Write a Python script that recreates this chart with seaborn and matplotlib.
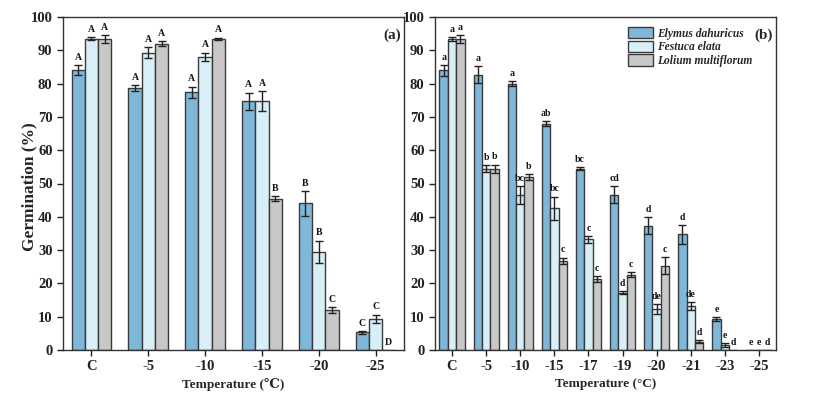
import numpy as np
import pandas as pd
import matplotlib
matplotlib.use("Agg")
import matplotlib.pyplot as plt
import seaborn as sns

species = ["Elymus dahuricus", "Festuca elata", "Lolium multiflorum"]
colors = ["#7fb7d9", "#d8eff7", "#c8c8c8"]

# Panel (a)
temps_a = ["C", "-5", "-10", "-15", "-20", "-25"]
a_E = [84.0, 78.7, 77.4, 74.7, 44.0, 5.3]
a_F = [93.5, 89.3, 88.0, 74.7, 29.4, 9.3]
a_L = [93.3, 92.0, 93.4, 45.4, 12.0, 0.0]
a_E_err = [1.5, 0.8, 1.7, 2.6, 3.7, 0.4]
a_F_err = [0.5, 1.7, 1.3, 3.0, 3.4, 1.3]
a_L_err = [1.2, 0.8, 0.4, 0.8, 0.8, 0.0]
a_E_lab = ["A", "A", "A", "A", "B", "C"]
a_F_lab = ["A", "A", "A", "A", "B", "C"]
a_L_lab = ["A", "A", "A", "B", "C", "D"]

# Panel (b)
temps_b = ["C", "-5", "-10", "-15", "-17", "-19", "-20", "-21", "-23", "-25"]
b_E = [84.0, 82.7, 80.0, 68.0, 54.5, 46.6, 37.3, 34.7, 9.2, 0.0]
b_F = [93.4, 54.5, 46.5, 42.5, 33.2, 17.2, 12.2, 13.2, 1.5, 0.0]
b_L = [93.4, 54.5, 52.0, 26.7, 21.3, 22.6, 25.3, 2.5, 0.0, 0.0]
b_E_err = [1.6, 2.6, 0.7, 0.7, 0.4, 2.5, 2.5, 2.8, 0.6, 0.0]
b_F_err = [0.5, 1.0, 2.8, 3.5, 1.0, 0.4, 1.5, 1.2, 0.5, 0.0]
b_L_err = [1.2, 1.2, 0.8, 1.0, 0.8, 0.8, 2.5, 0.5, 0.0, 0.0]
b_E_lab = ["a", "a", "a", "ab", "bc", "cd", "d", "d", "e", "e"]
b_F_lab = ["a", "b", "bc", "bc", "c", "d", "de", "de", "e", "e"]
b_L_lab = ["a", "b", "b", "c", "c", "c", "c", "d", "d", "d"]

sns.set_style("ticks")
plt.rcParams["font.family"] = ["Liberation Serif", "DejaVu Serif"]
plt.rcParams["font.weight"] = "bold"
plt.rcParams["axes.linewidth"] = 1.0

fig = plt.figure(figsize=(8.16, 3.99), dpi=100)
ax1 = fig.add_axes([63/816, 49/399, 341/816, 333/399])
ax2 = fig.add_axes([435/816, 49/399, 341/816, 333/399])


def panel(ax, temps, vals, errs, labs, width, lab_fs, lab_off):
    rows = []
    for s, v in zip(species, vals):
        for t, x in zip(temps, v):
            rows.append({"Temperature": t, "Species": s, "Germination": x})
    df = pd.DataFrame(rows)
    sns.barplot(data=df, x="Temperature", y="Germination", hue="Species",
                order=temps, hue_order=species, palette=colors, width=width,
                errorbar=None, edgecolor="#3a3a3a", linewidth=1.0, ax=ax,
                saturation=1)
    n = len(temps)
    bar_conts = list(ax.containers)
    for k, cont in enumerate(bar_conts):
        for i, p in enumerate(cont.patches):
            xc = p.get_x() + p.get_width() / 2
            h = vals[k][i]
            e = errs[k][i]
            if e > 0:
                ax.errorbar(xc, h, yerr=e, fmt="none", ecolor="#222222",
                            elinewidth=1.0, capsize=3, capthick=1.0, zorder=5)
            ax.text(xc, h + e + lab_off, labs[k][i], ha="center", va="bottom",
                    fontsize=lab_fs, fontweight="bold", color="#111111")
    ax.set_ylim(0, 100)
    ax.set_xlim(-0.5, n - 0.5)
    ax.set_yticks(range(0, 101, 10))
    ax.tick_params(axis="both", direction="out", length=4, width=1,
                   labelsize=10.5, colors="#222222")
    for lbl in ax.get_xticklabels() + ax.get_yticklabels():
        lbl.set_fontweight("bold")
    for sp in ax.spines.values():
        sp.set_visible(True)
        sp.set_color("#333333")


panel(ax1, temps_a, [a_E, a_F, a_L], [a_E_err, a_F_err, a_L_err],
      [a_E_lab, a_F_lab, a_L_lab], 0.7, 7, 1.0)
panel(ax2, temps_b, [b_E, b_F, b_L], [b_E_err, b_F_err, b_L_err],
      [b_E_lab, b_F_lab, b_L_lab], 0.74, 7, 1.0)

ax1.legend_.remove()
ax1.set_ylabel("Germination (%)", fontsize=12.5, fontweight="bold")
ax1.yaxis.set_label_coords(-0.076, 0.49)
ax1.set_xlabel("Temperature (\u2103)", fontsize=9.5, fontweight="bold", labelpad=3)
ax2.set_ylabel("")
ax2.set_xlabel("Temperature (\u00b0C)", fontsize=9.5, fontweight="bold", labelpad=3)

ax1.text(0.99, 0.965, "(a)", transform=ax1.transAxes, ha="right", va="top",
         fontsize=11, fontweight="bold")
ax2.text(0.99, 0.965, "(b)", transform=ax2.transAxes, ha="right", va="top",
         fontsize=11, fontweight="bold")

handles, labels = ax2.get_legend_handles_labels()
ax2.legend_.remove()
leg = ax2.legend(handles, labels, loc="upper left", bbox_to_anchor=(0.545, 0.99),
                 frameon=False, handlelength=2.2, handleheight=1.1,
                 labelspacing=0.1, handletextpad=0.3, borderaxespad=0.2,
                 prop={"style": "italic", "weight": "bold", "size": 8.3})

fig.savefig("out.png", dpi=100)
